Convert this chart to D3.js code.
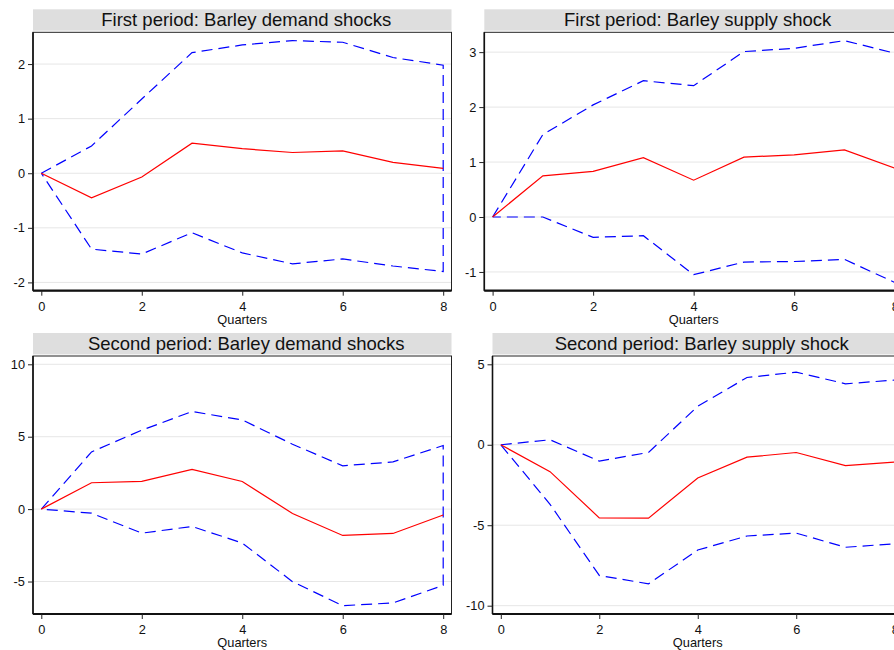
<!DOCTYPE html>
<html>
<head>
<meta charset="utf-8">
<script src="https://cdn.jsdelivr.net/npm/d3@7/dist/d3.min.js"></script>
<style>
  html, body { margin: 0; padding: 0; background: #fff; }
  svg { display: block; font-family: "Liberation Sans", Arial, sans-serif; }
</style>
</head>
<body>
<svg id="chart" width="894" height="650"></svg>
<script>
// ---------- data ----------
const quarters = [0, 1, 2, 3, 4, 5, 6, 7, 8];
const xTicks = [0, 2, 4, 6, 8];
const xLabel = "Quarters";

const titles = [
  "First period: Barley demand shocks",
  "First period: Barley supply shock",
  "Second period: Barley demand shocks",
  "Second period: Barley supply shock"
];

// Panel 1: First period, demand shocks
const p1Irf   = [0, -0.45, -0.07, 0.55, 0.45, 0.38, 0.41, 0.20, 0.09];
const p1Upper = [0, 0.50, 1.36, 2.21, 2.35, 2.43, 2.40, 2.12, 1.98];
const p1Lower = [0, -1.39, -1.48, -1.09, -1.46, -1.66, -1.57, -1.70, -1.80];
const p1Ticks = [-2, -1, 0, 1, 2];

// Panel 2: First period, supply shock
const p2Irf   = [0, 0.75, 0.83, 1.08, 0.67, 1.09, 1.13, 1.22, 0.89];
const p2Upper = [0, 1.50, 2.04, 2.48, 2.39, 3.01, 3.07, 3.21, 2.98];
const p2Lower = [0, 0.00, -0.37, -0.34, -1.05, -0.82, -0.81, -0.77, -1.19];
const p2Ticks = [-1, 0, 1, 2, 3];

// Panel 3: Second period, demand shocks
const p3Irf   = [0, 1.82, 1.91, 2.74, 1.91, -0.30, -1.82, -1.68, -0.41];
const p3Upper = [0, 3.95, 5.45, 6.74, 6.16, 4.48, 2.99, 3.26, 4.39];
const p3Lower = [0, -0.28, -1.66, -1.20, -2.34, -5.01, -6.67, -6.48, -5.26];
const p3Ticks = [-5, 0, 5, 10];

// Panel 4: Second period, supply shock
const p4Irf   = [0, -1.67, -4.54, -4.56, -2.06, -0.77, -0.48, -1.30, -1.08];
const p4Upper = [0, 0.31, -1.01, -0.48, 2.39, 4.18, 4.51, 3.79, 4.02];
const p4Lower = [0, -3.70, -8.12, -8.64, -6.54, -5.67, -5.49, -6.37, -6.15];
const p4Ticks = [-10, -5, 0, 5];

// ---------- layout ----------
const panels = [
  { title: titles[0], irf: p1Irf, upper: p1Upper, lower: p1Lower, ticks: p1Ticks, x0: 33,    x1: 451.5, y0: 32.3, y1: 290.7 },
  { title: titles[1], irf: p2Irf, upper: p2Upper, lower: p2Lower, ticks: p2Ticks, x0: 484.3, x1: 903,   y0: 32.3, y1: 290.7 },
  { title: titles[2], irf: p3Irf, upper: p3Upper, lower: p3Lower, ticks: p3Ticks, x0: 33,    x1: 451.5, y0: 356,  y1: 614 },
  { title: titles[3], irf: p4Irf, upper: p4Upper, lower: p4Lower, ticks: p4Ticks, x0: 492.5, x1: 903,   y0: 356,  y1: 614 }
];

const svg = d3.select("#chart");
const pad = 8.3;
const fmt = d => String(d);  // plain hyphen-minus like the reference

panels.forEach((p, i) => {
  const g = svg.append("g");
  const all = p.upper.concat(p.lower, p.irf, p.ticks);
  const y = d3.scaleLinear()
    .domain([d3.min(all), d3.max(all)])
    .range([p.y1 - pad, p.y0 + pad]);
  const x = d3.scaleLinear()
    .domain([0, 8])
    .range([p.x0 + pad, p.x1 - pad]);

  // title strip
  g.append("rect")
    .attr("x", p.x0).attr("y", p.y0 - 23)
    .attr("width", p.x1 - p.x0).attr("height", 21.4)
    .attr("fill", "#dedede");
  g.append("text")
    .attr("x", (p.x0 + p.x1) / 2 + 4)
    .attr("y", p.y0 - 23 + 10.7 + 6.4)
    .attr("text-anchor", "middle")
    .attr("font-size", "18.5px")
    .attr("fill", "#111")
    .text(p.title);

  // grid lines
  g.append("g").selectAll("line").data(p.ticks).join("line")
    .attr("x1", p.x0).attr("x2", p.x1)
    .attr("y1", d => y(d)).attr("y2", d => y(d))
    .attr("stroke", "#e6e6e6").attr("stroke-width", 1);

  // CI band outline (upper forward, lower back)
  const band = quarters.map((q, k) => [q, p.upper[k]])
    .concat(quarters.slice().reverse().map(q => [q, p.lower[q]]));
  const line = d3.line().x(d => x(d[0])).y(d => y(d[1]));
  g.append("path")
    .attr("d", line(band))
    .attr("fill", "none")
    .attr("stroke", "#0000ff")
    .attr("stroke-width", 1.2)
    .attr("stroke-dasharray", "11,6");

  // IRF line
  g.append("path")
    .attr("d", line(quarters.map((q, k) => [q, p.irf[k]])))
    .attr("fill", "none")
    .attr("stroke", "#ff0000")
    .attr("stroke-width", 1.2);

  // frame
  g.append("rect")
    .attr("x", p.x0).attr("y", p.y0)
    .attr("width", p.x1 - p.x0).attr("height", p.y1 - p.y0)
    .attr("fill", "none").attr("stroke", "#222").attr("stroke-width", 1);

  // y axis
  const yAxis = d3.axisLeft(y).tickValues(p.ticks).tickSize(5).tickPadding(3).tickFormat(fmt);
  const ya = g.append("g").attr("transform", `translate(${p.x0},0)`).call(yAxis);
  ya.select(".domain").attr("d", `M0,${p.y0}V${p.y1}`).attr("stroke", "#111").attr("stroke-width", 1.6);
  ya.selectAll(".tick line").attr("stroke", "#222");
  ya.selectAll(".tick text").attr("font-size", "12.8px").attr("fill", "#111")
    .attr("font-family", "Liberation Sans, Arial, sans-serif");

  // x axis
  const xAxis = d3.axisBottom(x).tickValues(xTicks).tickSize(5).tickPadding(6).tickFormat(fmt);
  const xa = g.append("g").attr("transform", `translate(0,${p.y1})`).call(xAxis);
  xa.select(".domain").attr("d", `M${p.x0},0H${p.x1}`).attr("stroke", "#111").attr("stroke-width", 2.2);
  xa.selectAll(".tick line").attr("stroke", "#222");
  xa.selectAll(".tick text").attr("font-size", "12.8px").attr("fill", "#111")
    .attr("font-family", "Liberation Sans, Arial, sans-serif");

  // x label
  g.append("text")
    .attr("x", x(4))
    .attr("y", p.y1 + 33)
    .attr("text-anchor", "middle")
    .attr("font-size", "12.8px")
    .attr("fill", "#111")
    .text(xLabel);
});
</script>
</body>
</html>
